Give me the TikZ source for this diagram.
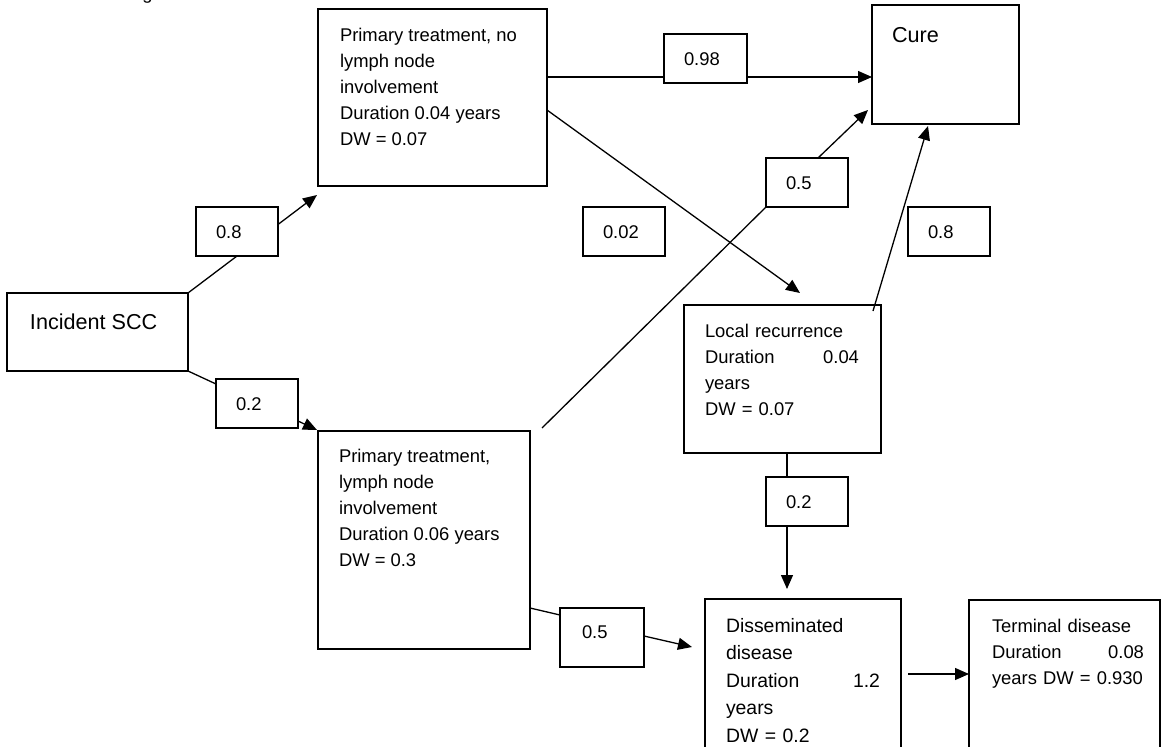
\documentclass[tikz,border=0pt]{standalone}
\usepackage{fontspec}
\setmainfont{Liberation Sans}
\usetikzlibrary{arrows.meta}

\tikzset{
  box/.style={draw, line width=1.7pt, outer sep=0pt, inner sep=0pt, anchor=north west},
  lbox/.style={draw, line width=1.5pt, outer sep=0pt, inner sep=0pt, anchor=north west,
               minimum width=82pt, minimum height=49pt},
  txt/.style={inner sep=0pt, outer sep=0pt, anchor=north west, align=left,
              font=\fontsize{18.4}{26}\selectfont},
  bigtxt/.style={inner sep=0pt, outer sep=0pt, anchor=base west,
                 font=\fontsize{21.6}{26}\selectfont},
  ltxt/.style={inner sep=0pt, outer sep=0pt, anchor=base west,
               font=\fontsize{18.4}{26}\selectfont},
  conn/.style={line width=1.3pt},
  arr/.style={conn, -{Triangle[length=14pt,width=12pt]}},
}

% probability label: name, left, top, text
\newcommand\problabel[4]{%
  \node[lbox] (#1) at (#2,#3) {};
  \node[ltxt] at ([shift={(20,31)}]#1.north west) {#4};
}

\begin{document}
\begin{tikzpicture}[x=1pt,y=-1pt]
\useasboundingbox (0,0) rectangle (1163,747);
\clip (0,0) rectangle (1163,747);

% caption running off the top edge
\node[ltxt] at (127,-1) {Figure};

% states
\node[box, minimum width=181pt, minimum height=78pt]  (I) at (7,293) {};
\node[bigtxt] at ([shift={(23,36)}]I.north west) {Incident SCC};

\node[box, minimum width=229pt, minimum height=177pt] (A) at (318,9) {};
\node[txt] at ([shift={(22,13.8)}]A.north west)
  {\strut Primary treatment, no\\lymph node\\involvement\\Duration 0.04 years\\DW = 0.07};

\node[box, minimum width=147pt, minimum height=119pt] (C) at (872,5) {};
\node[bigtxt] at ([shift={(20,37)}]C.north west) {Cure};

\node[box, minimum width=212pt, minimum height=218pt] (B) at (318,431) {};
\node[txt] at ([shift={(21,12.8)}]B.north west)
  {\strut Primary treatment,\\lymph node\\involvement\\Duration 0.06 years\\DW = 0.3};

\node[box, minimum width=197pt, minimum height=148pt] (L) at (684,305) {};
\node[txt, text width=154pt] at ([shift={(21,13.8)}]L.north west)
  {\strut Local recurrence\\Duration\hfill 0.04\\years\\DW = 0.07};

\node[box, minimum width=196pt, minimum height=170pt] (D) at (705,599) {};
\node[txt, text width=154pt, font=\fontsize{19.4}{27.5}\selectfont]
  at ([shift={(21,13.75)}]D.north west)
  {\strut Disseminated\\disease\\Duration\hfill 1.2\\years\\DW = 0.2};

\node[box, minimum width=191pt, minimum height=170pt] (T) at (969,600) {};
\node[txt, text width=152pt] at ([shift={(23,13.8)}]T.north west)
  {\strut Terminal disease\\Duration\hfill 0.08\\years DW = 0.930};

% transition probabilities
\problabel{p08}{196}{207}{0.8}
\problabel{p02}{216}{379}{0.2}
\node[lbox, minimum width=83pt] (p098) at (664,34) {};
\node[ltxt] at ([shift={(20,31)}]p098.north west) {0.98};
\problabel{p002}{583}{207}{0.02}
\problabel{p05u}{766}{158}{0.5}
\problabel{p08r}{908}{207}{0.8}
\problabel{p02m}{766}{477}{0.2}
\node[lbox, minimum height=59pt, minimum width=84pt] (p05l) at (560,608) {};
\node[ltxt] at ([shift={(22,30)}]p05l.north west) {0.5};

% transitions
\draw[conn] (I.north east) -- (p08.south);
\draw[arr]  ([shift={(0,-7)}]p08.east) -- ([shift={(-1,9)}]A.south west);

\draw[conn] (I.south east) -- ([shift={(0,5)}]p02.north west);
\draw[arr]  ([shift={(0,-7)}]p02.south east) -- ([shift={(-1,-1)}]B.north west);

\draw[conn] ([shift={(0,68)}]A.north east) -- ([shift={(0,43)}]p098.north west);
\draw[arr]  ([shift={(0,43)}]p098.north east) -- ([shift={(0,72)}]C.north west);

\draw[arr]  ([shift={(0,101)}]A.north east) -- ([shift={(116,-12)}]L.north west);

\draw[conn] ([shift={(12,-3)}]B.north east) -- (p05u.south west);
\draw[arr]  ([shift={(52,0)}]p05u.north west) -- ([shift={(-4,-14)}]C.south west);

\draw[arr]  ([shift={(-8,6)}]L.north east) -- ([shift={(56,2)}]C.south west);

\draw[conn] ([shift={(103,0)}]L.south west) -- ([shift={(21,0)}]p02m.north west);
\draw[arr]  ([shift={(21,0)}]p02m.south west) -- ([shift={(82,-10)}]D.north west);

\draw[conn] ([shift={(0,-41)}]B.south east) -- ([shift={(0,7)}]p05l.north west);
\draw[arr]  ([shift={(0,28)}]p05l.north east) -- ([shift={(-13,48)}]D.north west);

\draw[arr]  ([shift={(7,75)}]D.north east) -- ([shift={(0,74)}]T.north west);
\end{tikzpicture}
\end{document}
